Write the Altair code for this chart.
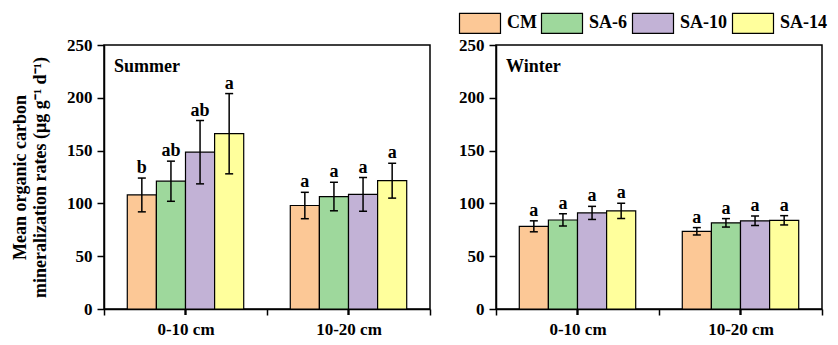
import altair as alt
import pandas as pd

depths = ["0-10 cm", "10-20 cm"]
treatments = ["CM", "SA-6", "SA-10", "SA-14"]
colors = ["#FCC896", "#9ED89C", "#C2B2D6", "#FFFF9C"]

summer_means = [[108.0, 121.0, 148.5, 166.0], [98.0, 106.5, 108.5, 121.5]]
summer_errs = [[16.0, 19.0, 30.0, 38.0], [12.5, 13.5, 16.0, 16.5]]
summer_letters = [["b", "ab", "ab", "a"], ["a", "a", "a", "a"]]

winter_means = [[78.3, 84.3, 91.0, 93.0], [73.6, 81.6, 83.5, 84.0]]
winter_errs = [[5.2, 5.8, 6.2, 7.2], [3.5, 4.0, 4.5, 4.4]]
winter_letters = [["a", "a", "a", "a"], ["a", "a", "a", "a"]]

y_ticks = list(range(0, 251, 25))
y_title = ["Mean organic carbon" + "\u00a0" * 10, "mineralization rates  (μg g⁻¹ d⁻¹)"]

FONT = "Liberation Serif"
W, H = 326, 264
# legend swatch: drawn 41 x 20 px, laid out as 20.5 px symbol
legend_path = "M-2,-0.976H2V0.976H-2Z"


def build(means, errs, letters):
    rows = []
    for i, d in enumerate(depths):
        for j, t in enumerate(treatments):
            m, e = means[i][j], errs[i][j]
            rows.append({"depth": d, "treatment": t, "mean": m,
                         "lo": m - e, "hi": m + e, "letter": letters[i][j]})
    return pd.DataFrame(rows)


def panel(season, means, errs, letters, first):
    df = build(means, errs, letters)
    x = alt.X("depth:N", sort=depths,
              scale=alt.Scale(paddingInner=0, paddingOuter=0),
              axis=alt.Axis(title=None, labelAngle=0, tickSize=6, tickBand="extent",
                            labelPadding=6))
    xo = alt.XOffset("treatment:N", sort=treatments,
                     scale=alt.Scale(paddingInner=0, paddingOuter=0.8))
    yaxis = alt.Axis(
        values=y_ticks,
        labelExpr="datum.value % 50 === 0 ? datum.label : ''",
        tickSize={"condition": {"test": "datum.value % 50 === 0", "value": 7}, "value": 4},
        labelPadding=5,
        title=y_title if first else None,
        titleFont=FONT, titleFontSize=18, titleFontWeight="bold", titleColor="black",
        titlePadding=17, titleLineHeight=20,
    )
    y = alt.Y("mean:Q", scale=alt.Scale(domain=[0, 250], nice=False), axis=yaxis)
    if first:
        legend = None
    else:
        legend = alt.Legend(orient="none", legendX=-27, legendY=-33, direction="horizontal",
                            title=None, symbolType=legend_path, symbolSize=420.25,
                            symbolStrokeColor="black", symbolStrokeWidth=1.2,
                            symbolOpacity=1, labelFont=FONT, labelFontSize=18,
                            labelFontWeight="bold", labelColor="black", labelOffset=16,
                            columnPadding=2, padding=0, offset=0)
    color = alt.Color("treatment:N", sort=treatments,
                      scale=alt.Scale(domain=treatments, range=colors), legend=legend)
    base = alt.Chart(df)
    bars = base.mark_bar(stroke="black", strokeWidth=1.2, opacity=1).encode(
        x=x, xOffset=xo, y=y, color=color)
    err = base.mark_rule(color="black", strokeWidth=1.5).encode(
        x=x, xOffset=xo, y="lo:Q", y2="hi:Q")
    cap_hi = base.mark_tick(color="black", thickness=1.5, size=8, opacity=1).encode(
        x=x, xOffset=xo, y="hi:Q")
    cap_lo = base.mark_tick(color="black", thickness=1.5, size=8, opacity=1).encode(
        x=x, xOffset=xo, y="lo:Q")
    lab = base.mark_text(font=FONT, fontSize=18, fontWeight="bold", color="black",
                         baseline="alphabetic", dy=-5).encode(
        x=x, xOffset=xo, y="hi:Q", text="letter:N")
    ctick = base.mark_rule(color="black", strokeWidth=1.5).encode(
        x=x, y=alt.value(H), y2=alt.value(H + 6))
    title = alt.Chart(alt.Data(values=[{"t": season}])).mark_text(
        font=FONT, fontSize=18, fontWeight="bold", color="black",
        align="left", baseline="alphabetic").encode(
        x=alt.value(10), y=alt.value(27), text="t:N")
    return alt.layer(bars, err, cap_hi, cap_lo, lab, ctick, title).properties(width=W, height=H)


left = panel("Summer", summer_means, summer_errs, summer_letters, True)
right = panel("Winter", winter_means, winter_errs, winter_letters, False)

chart = alt.hconcat(left, right, spacing=25).resolve_legend(
    color="independent").resolve_scale(color="independent").properties(
    padding={"left": 2, "top": 3, "right": 0, "bottom": 0}
).configure_view(stroke="black", strokeWidth=1.5).configure_axis(
    labelFont=FONT, labelFontSize=17, labelFontWeight="bold", labelColor="black",
    domainColor="black", domainWidth=1.5, tickColor="black", tickWidth=1.5,
    grid=False)

chart.save("out.html", embed_options={"renderer": "svg", "actions": False})
